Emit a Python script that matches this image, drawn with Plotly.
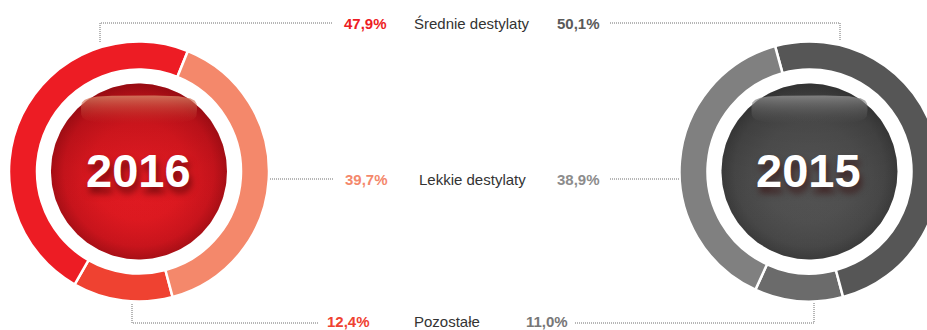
import numpy as np
import plotly.graph_objects as go

# ---- data -------------------------------------------------------------
categories = ["Średnie destylaty", "Lekkie destylaty", "Pozostałe"]
share_2016 = [47.9, 39.7, 12.4]
share_2015 = [50.1, 38.9, 11.0]
years = ["2016", "2015"]

# ---- styling ----------------------------------------------------------
colors_2016 = ["#ed1c24", "#f4886b", "#ef4231"]
colors_2015 = ["#565656", "#808080", "#6b6b6b"]
pct_colors_2016 = ["#ed1c24", "#f4886b", "#ef4231"]
pct_colors_2015 = ["#5a5a5a", "#8c8c8c", "#777777"]

W, H = 950, 330
R_OUT, R_IN, R_BALL = 130, 102, 88
centers = [(139, 171.5), (809.5, 171.5)]

# slices are drawn starting with "Pozostałe" at the bottom, 2016 clockwise,
# 2015 counter-clockwise so the two rings mirror each other
order = [2, 0, 1]


def fmt(v):
    return f"{v:.1f}".replace(".", ",") + "%"


fig = go.Figure()

for (cx, cy), vals, cols, direction in [
    (centers[0], share_2016, colors_2016, "clockwise"),
    (centers[1], share_2015, colors_2015, "counterclockwise"),
]:
    fig.add_trace(go.Pie(
        labels=[categories[i] for i in order],
        values=[vals[i] for i in order],
        marker=dict(colors=[cols[i] for i in order], line=dict(color="white", width=2.5)),
        hole=R_IN / R_OUT,
        sort=False,
        direction=direction,
        rotation=165,
        textinfo="none",
        hoverinfo="skip",
        showlegend=False,
        domain=dict(x=[(cx - R_OUT) / W, (cx + R_OUT) / W],
                    y=[(H - cy - R_OUT) / H, (H - cy + R_OUT) / H]),
    ))

# ---- glossy centre balls -----------------------------------------------
t = np.linspace(0, 2 * np.pi, 240)
ball_scales = [
    [[0, "#e61c24"], [0.55, "#dd1920"], [0.85, "#c8141c"], [1, "#a80f16"]],
    [[0, "#565656"], [0.55, "#505050"], [0.85, "#474747"], [1, "#3b3b3b"]],
]
shade_scales = [
    [[0, "rgba(100,0,8,0.26)"], [0.5, "rgba(100,0,8,0.05)"], [1, "rgba(255,40,40,0.0)"]],
    [[0, "rgba(0,0,0,0.16)"], [0.5, "rgba(0,0,0,0.04)"], [1, "rgba(120,120,120,0.0)"]],
]
gloss_scales = [
    [[0, "rgba(214,128,100,0.85)"], [0.6, "rgba(205,80,62,0.35)"], [1, "rgba(200,50,40,0.0)"]],
    [[0, "rgba(140,140,140,0.85)"], [0.6, "rgba(110,110,110,0.35)"], [1, "rgba(90,90,90,0.0)"]],
]
for (cx, cy), bs, ss, gs in zip(centers, ball_scales, shade_scales, gloss_scales):
    bx, by = cx + R_BALL * np.cos(t), cy + R_BALL * np.sin(t)
    fig.add_trace(go.Scatter(
        x=bx, y=by, mode="lines", line=dict(width=0), fill="toself",
        fillgradient=dict(type="radial", colorscale=bs),
        hoverinfo="skip", showlegend=False,
    ))
    fig.add_trace(go.Scatter(
        x=bx, y=by, mode="lines", line=dict(width=0), fill="toself",
        fillgradient=dict(type="vertical", colorscale=ss, start=cy - R_BALL, stop=cy + R_BALL),
        hoverinfo="skip", showlegend=False,
    ))
    # top highlight: rounded super-ellipse
    a, b, gy = 58, 14, cy - 62
    ct, st = np.cos(t), np.sin(t)
    gx_pts = cx + a * np.sign(ct) * np.abs(ct) ** 0.5
    gy_pts = gy + b * np.sign(st) * np.abs(st) ** 0.5
    fig.add_trace(go.Scatter(
        x=gx_pts, y=gy_pts, mode="lines", line=dict(width=0), fill="toself",
        fillgradient=dict(type="vertical", colorscale=gs, start=gy - b, stop=gy + b),
        hoverinfo="skip", showlegend=False,
    ))

for (cx, cy), yr in zip(centers, years):
    fig.add_annotation(
        x=cx - 1, y=cy - 1, text=f"<b>{yr}</b>", showarrow=False,
        font=dict(family="Liberation Sans Narrow, Arial Narrow, Liberation Sans, sans-serif", size=47,
                  color="white", shadow="2px 6px 7px rgba(50,0,0,0.6)"),
        xanchor="center", yanchor="middle",
    )

# ---- labels ------------------------------------------------------------
row_y = [23, 179, 321]
label_x = [472, 472, 447]
left_pct_x = [365, 366, 348]
right_pct_x = [578, 578, 547]
for i, cat in enumerate(categories):
    fig.add_annotation(x=label_x[i], y=row_y[i], text=cat, showarrow=False,
                       font=dict(family="Liberation Sans, Arial, sans-serif", size=15, color="#333333"))
    fig.add_annotation(x=left_pct_x[i], y=row_y[i], text=f"<b>{fmt(share_2016[i])}</b>", showarrow=False,
                       font=dict(family="Liberation Sans, Arial, sans-serif", size=15, color=pct_colors_2016[i]))
    fig.add_annotation(x=right_pct_x[i], y=row_y[i], text=f"<b>{fmt(share_2015[i])}</b>", showarrow=False,
                       font=dict(family="Liberation Sans, Arial, sans-serif", size=15, color=pct_colors_2015[i]))

# ---- dotted leader lines ------------------------------------------------
leaders = [
    [(100, 42), (100, 23), (333, 23)],
    [(610, 23), (840, 23), (840, 41)],
    [(270, 179), (334, 179)],
    [(610, 179), (680, 179)],
    [(132, 304), (132, 323), (318, 323)],
    [(575, 323), (814, 323), (814, 303)],
]
for pts in leaders:
    path = "M " + " L ".join(f"{x},{y}" for x, y in pts)
    fig.add_shape(type="path", path=path, xref="x", yref="y",
                  line=dict(color="#6e6e6e", width=1, dash="1px,1px"))

fig.update_xaxes(range=[0, W], visible=False, fixedrange=True)
fig.update_yaxes(range=[H, 0], visible=False, fixedrange=True)
fig.update_layout(
    width=W, height=H, margin=dict(l=0, r=0, t=0, b=0),
    paper_bgcolor="white", plot_bgcolor="white", hovermode=False,
)

fig.write_html(
    "out.html",
    post_script="document.documentElement.style.overflow='hidden';"
                "document.body.style.overflow='hidden';document.body.style.margin='0';",
)
